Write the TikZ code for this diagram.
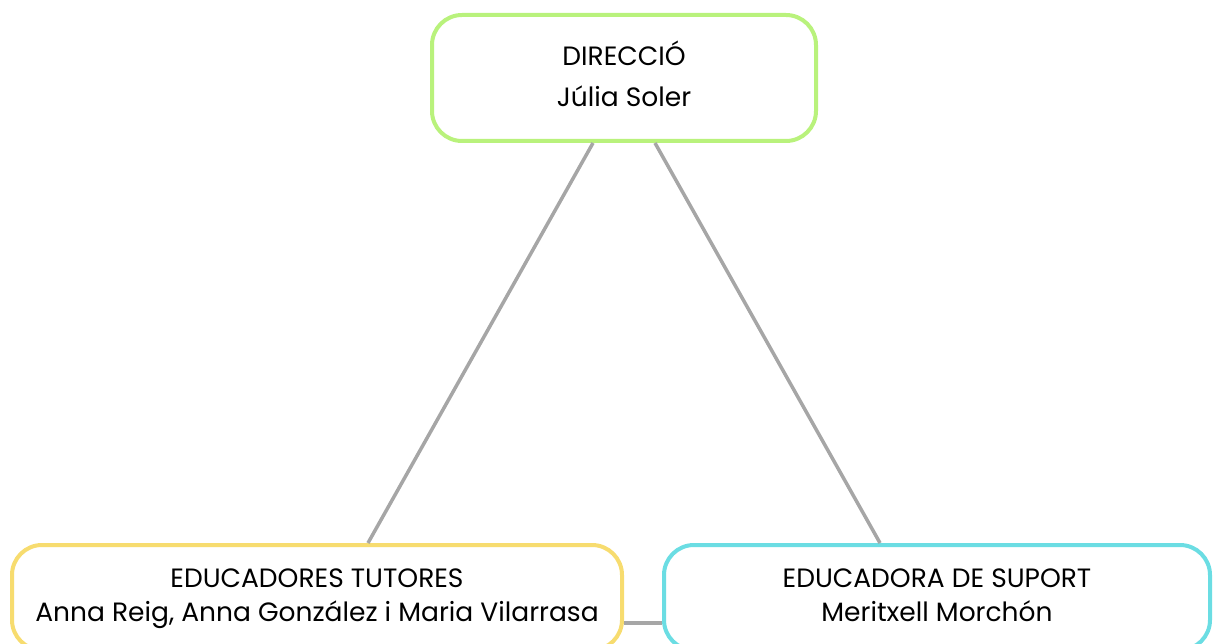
\documentclass[tikz,border=0pt]{standalone}
\usepackage{fontspec}
\setmainfont{Poppins}
\usepackage{tikz}
\usetikzlibrary{shapes}

\definecolor{dirgreen}{RGB}{185,242,124}
\definecolor{tutyellow}{RGB}{247,220,111}
\definecolor{supcyan}{RGB}{107,221,227}
\definecolor{linegray}{RGB}{166,166,166}

\tikzset{
  rolebox/.style={draw, line width=4pt, rounded corners=30pt, fill=white, align=center,
    inner sep=0pt, font=\fontsize{26.5}{34}\selectfont},
  conn/.style={draw=linegray, line width=3.5pt}
}

\begin{document}
\begin{tikzpicture}[x=1pt,y=1pt,yscale=-1,xscale=1]
\useasboundingbox (0,0) rectangle (1213,644);
\clip (0,0) rectangle (1213,644);

%Rounded Rect [dir]
\node [rolebox, draw=dirgreen, minimum width=384pt, minimum height=126pt, font=\fontsize{26.5}{41}\selectfont] (dir) at (624,78) {\strut DIRECCIÓ\\\strut Júlia Soler};
%Rounded Rect [tut]
\node [rolebox, draw=tutyellow, minimum width=610pt, minimum height=105pt] (tut) at (317,597.5) {\strut EDUCADORES TUTORES\\\strut Anna Reig, Anna González i Maria Vilarrasa};
%Rounded Rect [sup]
\node [rolebox, draw=supcyan, minimum width=546pt, minimum height=105pt] (sup) at (937,597.5) {\strut EDUCADORA DE SUPORT\\\strut Meritxell Morchón};

%Straight Lines
\draw [conn] ([xshift=-31pt]dir.south) -- ([xshift=51pt]tut.north);
\draw [conn] ([xshift=31pt]dir.south) -- ([xshift=-57pt]sup.north);
\draw [conn] ([yshift=25.5pt]tut.east) -- ([yshift=25.5pt]sup.west);

\end{tikzpicture}
\end{document}
